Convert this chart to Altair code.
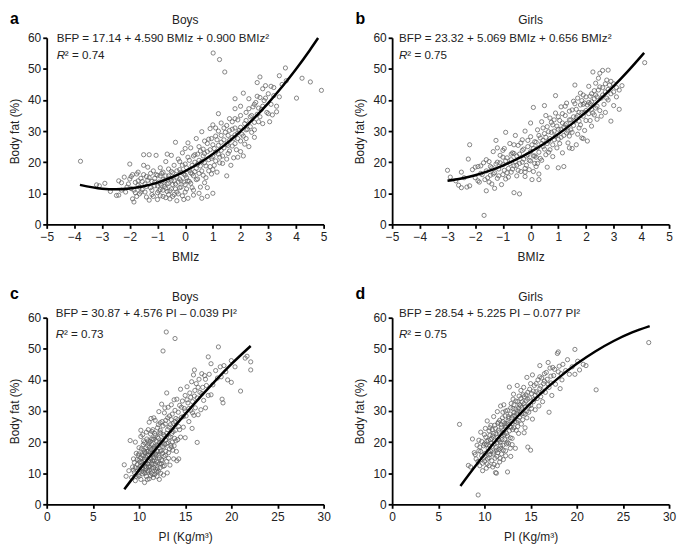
import altair as alt
import pandas as pd

FONT = "Liberation Sans"

# ---------------- data ----------------
A_POINTS = [(-3.78,20.3),(-3.2,12.7),(-3.1,12.4),(-2.9,13.2),(-2.48,9.3),(-2.4,9.4),(-2.3,11.0),(-2.2,15.2),(-2.1,12.0),(-2.0,19.4),
(-2.0,14.6),(-1.95,11.5),(-1.9,8.2),(-1.85,7.2),(-1.8,10.2),(-1.8,13.5),(-1.75,16.2),(-1.7,12.6),(-1.65,9.8),(-1.6,14.8),
(-1.55,11.2),(-1.5,22.4),(-1.5,16.0),(-1.45,13.0),(-1.4,8.8),(-1.35,18.4),(-1.3,22.4),(-1.3,15.0),(-1.25,11.8),(-1.2,13.8),
(-1.2,9.6),(-1.15,17.2),(-1.1,12.4),(-1.05,22.2),(-1.0,15.8),(-1.0,10.2),(-1.0,8.0),(-0.95,13.6),(-0.9,18.2),(-0.9,11.2),
(-0.85,16.4),(-0.8,9.0),(-0.8,14.4),(-0.75,12.2),(-0.7,20.2),(-0.7,15.6),(-0.65,10.6),(-0.6,13.2),(-0.6,17.8),(-0.55,8.2),
(-0.5,22.2),(-0.5,14.2),(-0.5,11.4),(-0.45,16.6),(-0.4,9.6),(-0.4,19.0),(-0.35,26.4),(-0.35,13.0),(-0.3,15.2),(-0.3,7.6),
(-0.25,21.0),(-0.2,11.8),(-0.2,17.6),(-0.15,14.0),(-0.1,23.0),(-0.1,9.2),(-0.05,16.2),(0.0,24.4),(0.0,12.8),(0.0,19.4),
(0.05,15.0),(0.1,8.4),(0.1,21.6),(0.15,17.4),(0.2,13.2),(0.2,24.6),(0.25,19.0),(0.3,15.6),(0.3,11.0),(0.35,22.4),
(0.4,27.6),(0.4,18.0),(0.45,14.6),(0.5,20.6),(0.5,25.0),(0.55,12.0),(0.6,17.2),(0.6,29.8),(0.6,8.4),(0.65,22.0),
(0.7,26.8),(0.7,19.8),(0.75,15.0),(0.8,23.4),(0.8,9.0),(0.85,27.4),(0.9,18.6),(0.9,30.8),(0.95,21.2),(1.0,10.0),
(1.0,25.6),(1.0,32.0),(1.01,55.1),(1.05,19.0),(1.1,28.4),(1.1,23.2),(1.15,16.8),(1.2,30.0),(1.2,35.6),(1.24,53.0),
(1.25,21.6),(1.3,26.4),(1.3,32.6),(1.35,19.6),(1.4,24.6),(1.43,49.0),(1.45,29.6),(1.5,15.6),(1.5,31.8),(1.55,22.8),
(1.6,27.0),(1.6,34.0),(1.65,19.0),(1.7,25.2),(1.7,30.6),(1.75,21.4),(1.8,40.4),(1.8,37.2),(1.8,28.8),(1.85,24.0),
(1.9,33.6),(1.9,21.6),(1.95,30.2),(2.0,26.8),(2.0,35.0),(2.05,29.0),(2.1,42.2),(2.1,22.0),(2.15,32.4),(2.2,27.6),
(2.2,36.0),(2.25,30.6),(2.3,40.4),(2.3,25.0),(2.35,34.6),(2.4,29.6),(2.45,37.8),(2.5,32.8),(2.5,28.0),(2.55,39.2),
(2.6,35.4),(2.6,45.6),(2.65,33.0),(2.7,47.4),(2.7,40.8),(2.75,37.0),(2.8,43.6),(2.8,32.4),(2.85,39.8),(2.9,44.6),
(2.95,36.0),(3.0,42.0),(3.05,33.0),(3.1,38.6),(3.1,44.4),(3.15,35.2),(3.2,41.4),(3.3,36.2),(3.3,38.0),(3.4,47.8),
(3.4,41.0),(3.5,45.0),(3.62,50.3),(3.65,46.2),(4.02,40.6),(4.22,47.0),(4.52,45.8),(4.92,43.1),
(-1.7,14.0),(-1.4,15.4),(-1.1,14.8),(-0.9,13.0),(-0.7,11.6),(-0.6,9.6),(-0.45,12.8),(-0.3,10.4),(-0.15,16.8),(0.05,11.4),
(0.25,16.2),(0.45,22.6),(0.55,18.8),(0.7,13.4),(0.85,20.8),(1.05,24.4),(1.15,27.2),(1.35,22.0),(1.55,25.4),(1.75,27.6),
(1.9,29.4),(2.0,23.4),(2.35,31.4),(-1.0,12.4),(-0.8,16.8),(-0.55,14.8),(-0.25,13.6),(0.15,13.8),(0.35,20.0),(0.65,24.2),
(0.95,16.2),(1.25,19.8),(1.55,28.6),(2.15,25.8),(2.65,37.4),(-2.3,13.4),(-1.9,16.0),(-1.6,10.4),(-1.3,7.8),(-0.65,22.6),
(-0.2,20.2),(0.1,26.2),(0.3,9.4),(0.8,11.8),(1.8,34.0),
(-2.15,10.4),(-2.05,13.0),(-1.95,15.4),(-1.85,11.0),(-1.75,9.0),(-1.7,16.8),(-1.65,12.0),(-1.55,13.8),(-1.45,10.4),(-1.4,12.2),
(-1.35,14.2),(-1.25,16.4),(-1.2,11.0),(-1.15,9.0),(-1.1,13.6),(-1.05,16.0),(-0.95,10.8),(-0.9,15.6),(-0.85,12.6),(-0.8,11.0),
(-0.75,14.0),(-0.7,8.6),(-0.65,13.0),(-0.6,15.6),(-0.55,10.8),(-0.5,17.0),(-0.45,9.0),(-0.4,14.0),(-0.35,11.4),(-0.3,17.2),
(-0.25,9.8),(-0.2,14.6),(-0.15,12.0),(-0.1,19.0),(-0.05,13.6),(0.0,10.4),(0.0,15.8),(0.05,18.2),(0.1,14.0),(0.15,20.6),
(0.2,16.6),(0.25,11.8),(0.3,22.0),(0.35,17.0),(0.4,14.4),(0.45,19.4),(0.5,16.4),(0.55,23.6),(0.6,20.2),(0.65,15.8),
(0.7,22.8),(0.75,18.8),(0.8,26.0),(0.85,17.2),(0.9,24.0),(0.95,27.6),(1.0,21.8),(1.0,17.6),(1.1,20.4),(1.1,31.0),
(1.2,25.4),(1.2,22.6),(1.3,28.6),(1.3,23.8),(1.4,27.2),(1.4,31.0),(1.5,25.8),(1.5,21.0),(1.6,30.2),(1.6,23.6),
(1.7,28.0),(1.7,33.0),(1.8,26.0),(1.8,31.0),(1.9,27.6),(2.0,31.2),(2.0,38.0),(2.1,28.4),(2.2,33.4),(2.2,30.4),
(2.3,37.2),(2.4,35.0),(2.5,30.4),(2.5,38.6),(2.6,41.2),(2.7,34.6),(2.8,38.0),(2.9,40.6),(3.0,35.6),(3.2,44.0),
(0.5,10.0),(-0.05,8.0),(-0.9,9.2),(-1.5,19.0),(-2.4,14.0),(-2.7,10.6)]

B_POINTS = [(-3.0,17.4),(-2.9,15.2),(-2.7,14.0),(-2.6,12.6),(-2.5,11.8),(-2.5,16.8),(-2.3,12.0),(-2.25,21.0),(-2.2,25.6),(-2.2,12.4),
(-2.1,17.6),(-2.0,15.0),(-1.9,18.6),(-1.85,13.6),(-1.8,16.4),(-1.7,19.8),(-1.68,2.9),(-1.65,14.4),(-1.6,10.8),(-1.6,17.2),
(-1.5,20.2),(-1.5,13.6),(-1.45,15.8),(-1.4,18.2),(-1.35,23.4),(-1.3,11.6),(-1.3,16.6),(-1.25,27.0),(-1.2,20.0),(-1.2,14.8),
(-1.15,17.8),(-1.1,22.2),(-1.05,12.8),(-1.0,19.2),(-1.0,16.0),(-0.95,24.4),(-0.9,29.6),(-0.9,14.6),(-0.85,21.4),(-0.8,18.0),
(-0.75,26.0),(-0.7,16.8),(-0.7,20.8),(-0.65,23.0),(-0.6,10.2),(-0.6,18.8),(-0.55,28.6),(-0.5,15.6),(-0.5,22.0),(-0.45,25.4),
(-0.4,9.8),(-0.4,19.6),(-0.35,17.0),(-0.3,23.8),(-0.3,27.2),(-0.25,21.0),(-0.2,15.4),(-0.2,30.0),(-0.15,19.0),(-0.1,25.0),
(-0.1,22.4),(-0.05,17.6),(0.0,28.2),(0.0,20.4),(0.0,32.6),(0.05,14.4),(0.1,24.4),(0.1,37.6),(0.15,22.0),(0.2,26.4),
(0.2,18.6),(0.25,30.4),(0.3,23.2),(0.3,16.2),(0.35,27.8),(0.4,20.6),(0.4,33.0),(0.45,25.0),(0.5,38.2),(0.5,29.2),
(0.55,22.4),(0.6,31.4),(0.6,18.4),(0.65,26.8),(0.7,34.2),(0.7,24.0),(0.75,29.6),(0.8,21.8),(0.8,32.0),(0.85,27.2),
(0.9,35.8),(0.9,41.4),(0.95,24.6),(1.0,30.6),(1.0,18.2),(1.05,33.4),(1.1,28.0),(1.1,37.8),(1.15,23.0),(1.2,31.2),
(1.2,18.6),(1.25,35.0),(1.3,29.4),(1.3,39.0),(1.35,26.2),(1.4,33.6),(1.45,30.4),(1.5,36.8),(1.5,24.4),(1.55,31.8),
(1.6,44.8),(1.6,38.8),(1.65,34.4),(1.7,29.0),(1.7,40.6),(1.75,36.0),(1.8,32.0),(1.8,42.2),(1.85,27.8),(1.9,38.6),
(1.9,34.8),(1.95,30.2),(2.0,41.0),(2.0,36.6),(2.05,26.8),(2.1,39.2),(2.1,44.4),(2.15,33.4),(2.2,42.0),(2.2,37.0),
(2.25,49.0),(2.3,35.2),(2.3,40.4),(2.35,45.4),(2.4,38.0),(2.4,33.8),(2.45,43.2),(2.5,48.6),(2.5,36.6),(2.55,40.6),
(2.6,44.0),(2.6,49.5),(2.65,38.6),(2.7,42.6),(2.7,36.0),(2.75,46.4),(2.8,49.6),(2.8,40.0),(2.85,44.8),(2.9,33.2),
(2.9,42.0),(3.0,45.2),(3.0,38.2),(3.1,44.0),(3.2,37.0),(3.2,43.2),(3.3,44.6),(4.12,52.0),
(-1.8,18.8),(-1.4,13.0),(-1.0,21.6),(-0.8,15.2),(-0.5,19.0),(-0.25,24.2),(0.0,23.4),(0.2,21.6),(0.45,27.0),(0.65,23.2),
(0.85,30.0),(1.05,26.0),(1.25,32.0),(1.4,28.4),(1.55,34.6),(1.75,31.0),(1.95,36.0),(2.15,38.8),(2.35,41.6),(2.55,34.8),
(2.75,40.6),(0.25,19.6),(-0.6,22.8),(1.15,35.6),(0.55,35.0),(1.85,39.8),(2.45,47.0),(-1.2,24.6),(0.1,17.0),(1.65,25.6),
(-2.4,15.0),(-2.0,18.4),(-1.9,14.0),(-1.75,16.0),(-1.6,20.8),(-1.55,15.0),(-1.45,18.6),(-1.35,16.2),(-1.25,19.4),(-1.15,15.6),
(-1.1,19.8),(-1.0,23.8),(-0.95,17.4),(-0.9,20.4),(-0.85,16.6),(-0.75,19.6),(-0.7,22.6),(-0.65,17.8),(-0.6,25.6),(-0.55,20.2),
(-0.45,17.4),(-0.4,22.6),(-0.35,26.2),(-0.3,20.0),(-0.2,18.0),(-0.15,22.0),(-0.1,27.0),(-0.05,20.6),(0.05,25.6),(0.1,22.0),
(0.15,26.6),(0.15,19.6),(0.25,24.6),(0.3,28.6),(0.35,21.2),(0.4,26.0),(0.45,31.0),(0.5,24.2),(0.55,28.0),(0.6,26.0),
(0.65,29.8),(0.7,27.6),(0.75,32.8),(0.8,25.6),(0.85,33.6),(0.9,28.4),(0.95,31.6),(1.0,27.4),(1.0,34.6),(1.1,30.6),
(1.15,32.6),(1.2,28.6),(1.25,38.0),(1.3,32.4),(1.35,30.0),(1.4,36.4),(1.45,33.6),(1.5,29.6),(1.55,39.6),(1.6,33.2),
(1.65,37.0),(1.7,35.0),(1.75,33.2),(1.8,38.4),(1.85,36.0),(1.9,41.6),(1.95,39.0),(2.0,33.4),(2.05,38.4),(2.1,35.6),
(2.15,41.2),(2.2,39.4),(2.25,35.8),(2.3,43.0),(2.35,37.4),(2.4,41.0),(2.5,44.2),(2.6,41.6),(2.7,45.2),(2.8,43.4),
(2.9,46.0),(3.0,42.6),(3.1,41.0),(2.2,31.6),(1.4,24.6),(0.3,14.4),(-0.2,16.8),(1.9,27.6)]

C_POINTS = [(8.4,12.7),(8.6,9.0),(8.9,10.8),(9.04,20.5),(9.2,8.6),(9.3,12.0),(9.4,14.6),(9.5,10.2),(9.6,7.6),(9.7,16.4),
(9.8,12.8),(9.9,9.4),(10.0,14.2),(10.0,18.2),(10.1,11.2),(10.2,8.0),(10.2,21.8),(10.3,15.8),(10.35,12.6),(10.4,22.4),
(10.4,9.8),(10.5,17.4),(10.55,13.8),(10.6,7.0),(10.6,19.8),(10.7,11.4),(10.75,15.2),(10.8,23.2),(10.8,9.0),(10.85,17.0),
(10.9,13.0),(11.0,20.4),(11.0,10.4),(11.05,15.8),(11.1,26.4),(11.1,8.2),(11.15,18.4),(11.2,12.2),(11.25,22.6),(11.3,14.6),
(11.3,27.6),(11.35,10.0),(11.4,19.2),(11.45,16.4),(11.5,12.8),(11.5,24.0),(11.55,8.6),(11.6,20.8),(11.65,14.2),(11.7,17.8),
(11.75,27.0),(11.8,11.2),(11.8,22.2),(11.85,15.6),(11.9,19.0),(11.95,9.0),(12.0,24.6),(12.0,13.4),(12.05,17.0),(12.1,21.2),
(12.15,29.8),(12.2,8.0),(12.2,15.0),(12.25,19.8),(12.3,26.2),(12.3,11.8),(12.35,22.8),(12.4,17.2),(12.45,32.2),(12.5,14.0),
(12.5,20.6),(12.6,49.3),(12.6,25.2),(12.65,9.4),(12.7,18.4),(12.75,29.4),(12.8,22.0),(12.85,15.8),(12.95,55.4),(12.9,27.0),
(13.0,35.8),(13.0,19.6),(13.06,10.1),(13.1,24.0),(13.15,31.2),(13.2,16.6),(13.25,21.4),(13.3,28.4),(13.35,12.6),(13.4,25.6),
(13.45,19.0),(13.5,32.0),(13.55,22.8),(13.6,29.0),(13.65,17.4),(13.7,26.0),(13.75,14.6),(13.8,33.6),(13.9,53.3),(13.85,21.2),
(13.9,30.2),(13.95,23.8),(14.0,27.6),(14.1,14.0),(14.1,33.8),(14.2,20.8),(14.25,29.6),(14.3,25.0),(14.4,31.8),(14.5,21.6),
(14.5,37.0),(14.6,28.0),(14.7,33.2),(14.8,24.8),(14.9,30.8),(15.0,35.0),(15.0,21.4),(15.1,28.4),(15.2,37.8),(15.3,32.6),
(15.4,26.6),(15.5,35.8),(15.6,30.2),(15.7,39.4),(15.75,24.4),(15.8,33.0),(15.9,41.6),(15.95,28.6),(16.0,43.2),(16.05,36.6),
(16.1,31.0),(16.2,38.8),(16.3,19.9),(16.3,34.2),(16.4,28.8),(16.5,40.2),(16.6,36.0),(16.7,30.4),(16.8,42.0),(16.9,37.6),
(17.0,33.4),(17.1,41.4),(17.2,31.0),(17.3,38.2),(17.5,47.4),(17.5,35.0),(17.6,41.8),(17.8,45.2),(17.8,35.2),(18.0,38.4),
(18.3,43.0),(18.5,40.6),(18.6,50.6),(18.8,44.2),(18.9,41.0),(19.0,33.8),(19.1,32.6),(19.2,44.6),(19.4,42.6),(19.6,40.0),
(20.0,46.2),(20.0,39.2),(20.4,44.2),(21.0,36.4),(21.5,47.0),(21.7,47.6),(22.1,45.8),(22.1,43.2),
(9.6,11.8),(9.9,15.8),(10.1,13.6),(10.3,10.6),(10.45,19.2),(10.65,12.2),(10.7,16.6),(10.9,8.0),(10.95,18.8),(11.1,14.0),
(11.2,16.8),(11.35,21.0),(11.4,11.6),(11.6,15.0),(11.7,9.6),(11.9,13.8),(12.0,18.8),(12.1,10.6),(12.4,13.0),(12.55,16.4),
(12.75,12.4),(12.9,20.6),(13.2,14.8),(13.5,18.4),(11.5,18.0),(11.0,13.0),(12.3,23.8),(10.6,14.4),(13.8,18.8),(14.05,17.0),
(9.4,11.0),(9.5,13.4),(9.7,9.0),(9.8,14.4),(9.9,11.6),(10.0,16.2),(10.0,9.0),(10.1,12.2),(10.2,15.0),(10.25,17.8),
(10.3,13.6),(10.4,11.4),(10.45,15.6),(10.5,10.4),(10.5,20.4),(10.6,16.8),(10.65,10.0),(10.7,13.2),(10.75,18.2),(10.8,12.0),
(10.85,21.0),(10.9,15.6),(10.95,10.8),(11.0,17.0),(11.0,24.0),(11.05,12.0),(11.1,19.6),(11.15,11.0),(11.2,14.8),(11.2,20.2),
(11.25,9.2),(11.3,17.6),(11.35,13.2),(11.4,23.4),(11.45,14.0),(11.5,9.6),(11.5,21.0),(11.55,16.0),(11.6,11.8),(11.65,18.6),
(11.7,22.8),(11.75,13.0),(11.8,16.2),(11.85,20.4),(11.9,10.6),(11.95,17.2),(12.0,21.6),(12.0,11.4),(12.1,15.6),(12.1,25.6),
(12.15,19.0),(12.2,13.0),(12.25,23.2),(12.3,17.0),(12.35,10.0),(12.4,20.0),(12.45,14.4),(12.5,26.6),(12.55,18.6),(12.6,12.2),
(12.65,22.4),(12.7,15.4),(12.8,19.2),(12.85,25.8),(12.9,17.0),(13.0,22.8),(13.0,13.8),(13.1,27.8),(13.15,19.8),(13.25,24.8),
(13.3,17.8),(13.4,21.6),(13.5,27.2),(13.6,20.0),(13.7,23.4),(13.9,26.6),(14.0,20.4),(14.2,27.2),(14.4,24.0),(14.6,31.2),
(14.8,28.2),(15.0,30.0),(15.2,33.6),(15.4,30.8),(15.6,34.4),(15.8,29.4),(16.0,34.8),(16.4,37.6),(16.8,35.6),(17.2,40.2),
(10.2,23.8),(9.6,20.0),(11.6,27.8),(12.8,31.0),(14.3,14.6)]

D_POINTS = [(7.3,25.7),(8.26,12.5),(8.5,12.0),(8.7,21.0),(8.9,16.6),(9.1,14.6),(9.2,19.0),(9.32,3.0),(9.4,17.2),(9.5,12.4),
(9.6,23.2),(9.7,15.6),(9.8,10.8),(9.9,18.8),(10.0,13.8),(10.0,22.4),(10.1,16.4),(10.2,11.6),(10.25,20.2),(10.3,26.8),
(10.35,14.6),(10.4,18.0),(10.5,23.6),(10.5,12.4),(10.6,16.0),(10.65,20.8),(10.7,25.4),(10.8,14.0),(10.85,18.6),(10.9,22.0),
(11.0,28.2),(11.0,16.8),(11.05,12.8),(11.1,20.4),(11.2,10.2),(11.2,24.4),(11.25,18.2),(11.3,10.0),(11.35,15.4),(11.4,29.8),
(11.4,21.6),(11.5,26.4),(11.55,17.6),(11.6,23.2),(11.65,13.6),(11.7,20.0),(11.75,31.6),(11.8,25.6),(11.85,16.2),(11.9,22.2),
(11.95,27.8),(12.0,19.0),(12.05,14.4),(12.1,32.0),(12.1,24.0),(12.2,20.8),(12.25,28.4),(12.3,17.2),(12.35,25.4),(12.4,22.8),
(12.5,10.4),(12.5,30.2),(12.55,26.8),(12.6,19.6),(12.7,37.7),(12.7,23.6),(12.8,29.0),(12.85,15.4),(12.9,32.4),(13.0,26.0),
(13.0,21.2),(13.1,30.8),(13.15,35.4),(13.2,24.6),(13.3,28.6),(13.35,18.0),(13.4,33.2),(13.5,26.4),(13.55,38.2),(13.6,30.0),
(13.7,22.8),(13.75,34.8),(13.8,28.0),(13.9,31.6),(13.95,36.6),(14.0,25.8),(14.1,33.0),(14.2,29.2),(14.25,37.6),(14.3,23.0),
(14.4,31.4),(14.5,35.2),(14.6,27.8),(14.6,40.8),(14.7,18.4),(14.7,33.8),(14.8,29.6),(14.9,37.0),(15.0,17.4),(15.0,31.8),
(15.1,35.6),(15.2,41.6),(15.2,27.4),(15.3,33.0),(15.4,38.2),(15.5,30.4),(15.6,36.2),(15.7,34.0),(15.8,40.0),(15.9,31.6),
(16.0,44.6),(16.0,37.2),(16.1,34.6),(16.2,40.6),(16.3,33.0),(16.4,38.8),(16.5,42.0),(16.6,36.0),(16.8,40.2),(16.9,45.6),
(17.0,29.6),(17.0,37.6),(17.1,43.8),(17.2,39.0),(17.3,35.0),(17.4,44.0),(17.5,41.4),(17.7,38.6),(17.9,48.5),(18.0,49.0),
(18.1,44.4),(18.2,37.2),(18.3,42.0),(18.5,45.0),(18.8,43.0),(19.0,46.5),(19.2,41.8),(19.5,44.2),(19.8,49.8),(19.8,41.8),
(20.1,46.0),(20.3,43.2),(20.7,45.0),(21.0,44.6),(22.1,36.8),(27.8,52.0),
(9.6,17.0),(9.9,14.8),(10.2,19.2),(10.45,16.8),(10.75,19.6),(11.0,22.8),(11.3,17.4),(11.5,20.8),(11.8,18.0),(12.0,23.0),
(12.2,26.0),(12.45,20.0),(12.65,27.6),(12.9,24.8),(13.2,29.4),(13.45,23.8),(13.7,31.0),(14.0,29.0),(14.3,32.4),(14.6,30.0),
(10.9,12.0),(11.7,14.8),(12.3,15.6),(13.0,19.2),(9.4,20.6),(10.6,24.6),(11.45,26.0),(13.1,33.8),(15.5,35.0),(14.2,35.2),
(9.0,16.0),(9.3,13.8),(9.5,18.4),(9.7,20.2),(9.8,13.2),(10.0,19.4),(10.05,15.4),(10.15,21.6),(10.3,13.0),(10.4,20.6),
(10.5,15.0),(10.55,18.8),(10.6,22.2),(10.7,17.0),(10.8,21.2),(10.85,24.0),(10.95,16.2),(11.05,19.4),(11.1,25.4),(11.15,14.8),
(11.25,22.6),(11.35,19.8),(11.45,16.6),(11.5,23.8),(11.6,20.6),(11.65,27.0),(11.75,18.8),(11.85,24.8),(11.9,20.8),(12.0,26.6),
(12.05,17.4),(12.15,22.4),(12.25,24.8),(12.3,30.0),(12.4,19.4),(12.45,26.0),(12.5,22.0),(12.6,28.2),(12.75,25.0),(12.8,21.4),
(12.85,31.0),(12.95,27.8),(13.05,24.0),(13.1,28.4),(13.2,32.0),(13.3,26.6),(13.4,30.6),(13.5,29.2),(13.6,33.0),(13.65,27.0),
(13.8,32.0),(13.85,29.6),(13.95,34.0),(14.05,31.2),(14.15,27.2),(14.3,34.6),(14.4,29.0),(14.5,33.2),(14.7,36.0),(14.8,31.6),
(14.9,34.2),(15.0,38.8),(15.1,30.8),(15.3,36.4),(15.4,33.8),(15.6,38.8),(15.8,35.6),(16.0,41.0),(16.1,38.0),(16.3,36.4),
(16.5,39.6),(16.7,42.4),(16.9,38.6),(17.2,41.2),(17.6,43.4),(18.0,42.6),(18.4,40.0),(12.0,29.6),(11.4,12.4),(13.6,25.0),
(10.1,24.4),(14.4,24.6),(12.8,18.0)]

# fitted curves
A_CURVE_X = [-3.8, -3.0, -2.5, -2.0, -1.5, -1.0, -0.5, 0.0, 0.5, 1.0, 1.5, 2.0, 2.5, 3.0, 3.5, 4.0, 4.5, 4.8]
A_CURVE_Y = [12.70, 11.47, 11.29, 11.56, 12.28, 13.45, 15.07, 17.14, 19.66, 22.63, 26.05, 29.92, 34.24, 39.01, 44.23, 49.90, 56.02, 59.91]
B_CURVE_X = [-3.0, -2.5, -2.0, -1.5, -1.0, -0.5, 0.0, 0.5, 1.0, 1.5, 2.0, 2.5, 3.0, 3.5, 4.1]
B_CURVE_Y = [14.02, 14.75, 15.81, 17.19, 18.91, 20.95, 23.32, 26.02, 29.05, 32.40, 36.08, 40.09, 44.43, 49.10, 55.13]
C_CURVE_X = [8.4, 10.0, 12.0, 14.0, 16.0, 18.0, 20.0, 22.1]
C_CURVE_Y = [4.82, 10.99, 18.42, 25.55, 32.37, 38.86, 45.05, 50.9]
D_CURVE_X = [7.4, 9.0, 10.0, 12.0, 14.0, 16.0, 18.0, 20.0, 22.0, 24.0, 26.0, 27.9]
D_CURVE_Y = [5.91, 12.25, 16.01, 23.07, 29.52, 35.35, 40.56, 45.16, 49.14, 52.51, 55.26, 57.30]

BMIZ_TICKS = [-5, -4, -3, -2, -1, 0, 1, 2, 3, 4, 5]
PI_TICKS = [0, 5, 10, 15, 20, 25, 30]
Y_TICKS = [0, 10, 20, 30, 40, 50, 60]

W = 279
H = 188


def panel(points, cx, cy, xdom, xticks, xtitle, sex, letter, eq, r2, eqx, top):
    pts = pd.DataFrame(points, columns=["x", "y"])
    crv = pd.DataFrame({"x": cx, "y": cy})
    xsc = alt.Scale(domain=xdom, nice=False, zero=False)
    ysc = alt.Scale(domain=[0, 60], nice=False, zero=False)
    xax = alt.Axis(values=xticks, title=xtitle, labelFlush=False, labelOverlap=False,
                   titlePadding=9, labelPadding=3)
    yax = alt.Axis(values=Y_TICKS, title="Body fat (%)", labelFlush=False, labelOverlap=False,
                   titlePadding=6, labelPadding=2)
    pts_layer = alt.Chart(pts).mark_point(
        shape="circle", filled=False, size=18, stroke="#5e5e5e", strokeWidth=0.75, opacity=1
    ).encode(x=alt.X("x:Q", scale=xsc, axis=xax), y=alt.Y("y:Q", scale=ysc, axis=yax))
    line_layer = alt.Chart(crv).mark_line(
        color="black", strokeWidth=2.5, interpolate="monotone"
    ).encode(x=alt.X("x:Q", scale=xsc, axis=xax), y=alt.Y("y:Q", scale=ysc, axis=yax))
    one = alt.Data(values=[{"k": 1}])
    lt, tt, et, rt = top
    t_letter = alt.Chart(one).mark_text(
        text=letter, font=FONT, fontSize=16, fontWeight="bold", align="left", color="black"
    ).encode(x=alt.value(-37), y=alt.value(lt))
    t_title = alt.Chart(one).mark_text(
        text=sex, font=FONT, fontSize=12, align="center", color="#222"
    ).encode(x=alt.value(W / 2), y=alt.value(tt))
    t_eq = alt.Chart(one).mark_text(
        text=eq, font=FONT, fontSize=11.7, align="left", color="#222"
    ).encode(x=alt.value(eqx), y=alt.value(et))
    t_r = alt.Chart(one).mark_text(
        text="R", font=FONT, fontSize=11.7, fontStyle="italic", align="left", color="#222"
    ).encode(x=alt.value(eqx), y=alt.value(rt))
    t_r2 = alt.Chart(one).mark_text(
        text="\u00b2 = " + r2, font=FONT, fontSize=11.7, align="left", color="#222"
    ).encode(x=alt.value(eqx + 8.3), y=alt.value(rt))
    return alt.layer(pts_layer, line_layer, t_letter, t_title, t_eq, t_r, t_r2).properties(width=W, height=H)


TOP1 = (-19, -18, 0, 17)
TOP2 = (-24, -21, -5, 16.5)

pa = panel(A_POINTS, A_CURVE_X, A_CURVE_Y, [-5, 5], BMIZ_TICKS, "BMIz", "Boys", "a",
           "BFP = 17.14 + 4.590 BMIz + 0.900 BMIz\u00b2", "0.74", 10, TOP1)
pb = panel(B_POINTS, B_CURVE_X, B_CURVE_Y, [-5, 5], BMIZ_TICKS, "BMIz", "Girls", "b",
           "BFP = 23.32 + 5.069 BMIz + 0.656 BMIz\u00b2", "0.75", 7, TOP1)
pc = panel(C_POINTS, C_CURVE_X, C_CURVE_Y, [0, 30], PI_TICKS, "PI (Kg/m\u00b3)", "Boys", "c",
           "BFP = 30.87 + 4.576 PI \u2013 0.039 PI\u00b2", "0.73", 9, TOP2)
pd_ = panel(D_POINTS, D_CURVE_X, D_CURVE_Y, [0, 30], PI_TICKS, "PI (Kg/m\u00b3)", "Girls", "d",
            "BFP = 28.54 + 5.225 PI \u2013 0.077 PI\u00b2", "0.75", 7, TOP2)

chart = alt.concat(
    pa, pb, pc, pd_, columns=2, spacing={"row": 22, "column": 22}
).properties(
    padding={"left": 0, "top": 0, "right": 0, "bottom": 0},
    background="white",
).configure_view(
    stroke="transparent"
).configure_axis(
    grid=False,
    domainColor="black",
    domainWidth=1.8,
    tickColor="black",
    tickWidth=1.8,
    tickSize=4,
    labelFont=FONT,
    labelFontSize=12,
    labelColor="#222",
    titleFont=FONT,
    titleFontSize=12,
    titleFontWeight="normal",
    titleColor="#222",
)

chart.save("out.html", embed_options={"renderer": "svg", "actions": False})
